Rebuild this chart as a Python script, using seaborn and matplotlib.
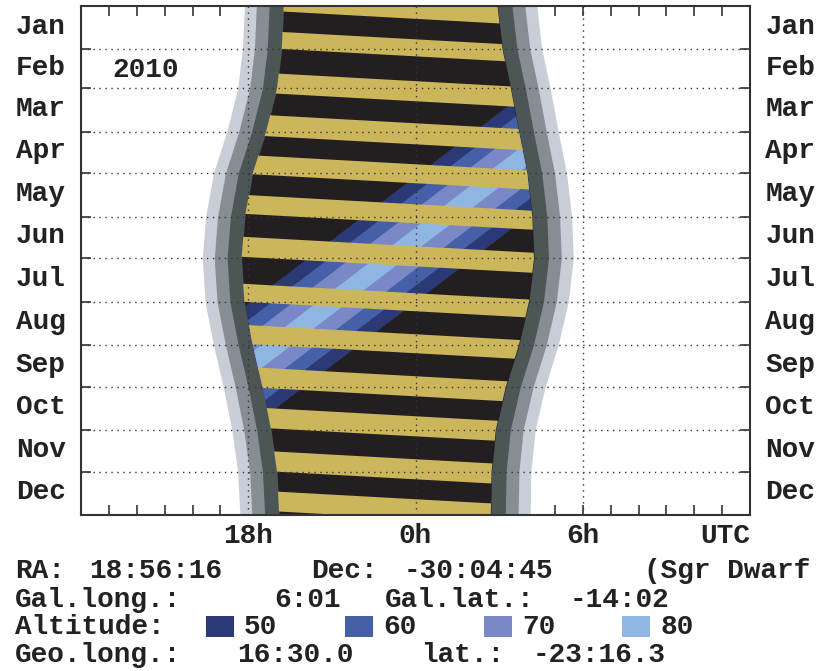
import numpy as np
import matplotlib
matplotlib.use("Agg")
import matplotlib.pyplot as plt
import matplotlib.transforms as mtransforms
import seaborn as sns
from matplotlib.patches import Polygon, Rectangle

# ---------------- data ----------------
MONTHS = ["Jan", "Feb", "Mar", "Apr", "May", "Jun",
          "Jul", "Aug", "Sep", "Oct", "Nov", "Dec"]
MONTH_START_DAY = [0, 31, 59, 90, 120, 151, 181, 212, 243, 273, 304, 334, 365]

# twilight outer edges (UTC hours, relative to 0h) at the month boundaries
EDGE_DAYS = [0, 31, 59, 90, 120, 151, 181, 212, 243, 273, 304, 334, 365]
SUNSET_UTC = [-6.14, -6.21, -6.38, -6.77, -7.25, -7.53, -7.65,
              -7.55, -7.25, -6.90, -6.59, -6.38, -6.30]
SUNRISE_UTC = [4.35, 4.53, 4.83, 5.12, 5.42, 5.60, 5.66,
               5.48, 5.12, 4.65, 4.29, 4.14, 4.11]
TWILIGHT_STEP_H = [0.43, 0.46, 0.52]          # civil, nautical, astronomical

# moon above horizon: band limits (day of year, measured at 0h UTC)
MOON_UP_START = [-5.6, 23.9, 53.9, 84.1, 113.5, 142.2, 172.3,
                 206.0, 235.4, 265.5, 294.2, 325.0, 353.7]
MOON_UP_END = [9.2, 36.1, 68.3, 99.2, 127.1, 155.8, 186.7,
               218.9, 249.0, 279.9, 308.6, 339.4, 367.9]
MOON_DRIFT_DAYS_PER_H = 1.1

# object transit (UTC hour) at start / end of the year
TRANSIT_DAY = [0, 365]
TRANSIT_UTC = [11.0, -13.0]
ALT_LEVELS = [50, 60, 70, 80]
ALT_HALFWIDTH_H = [2.96, 2.19, 1.41, 0.55]

X_TICK_HOURS = [-6, 0, 6, 12]
X_TICK_LABELS = ["18h", "0h", "6h", "UTC"]
YEAR_LABEL = "2010"
INFO_TOKENS = [
    ["RA:", "18:56:16", "Dec:", "-30:04:45", "(Sgr Dwarf"],
    ["Gal.long.:", "6:01", "Gal.lat.:", "-14:02"],
    ["Altitude:"],
    ["Geo.long.:", "16:30.0", "lat.:", "-23:16.3"],
]

# ---------------- layout / styles ----------------
INFO_COLS = [[0, 4, 16, 21, 34], [0, 14, 20, 30], [0], [0, 12, 22, 28]]
ROWS_Y = [571, 600, 627, 655]
PITCH = 18.5
TWILIGHT_COLORS = ["#c9cdd6", "#868d93", "#4c5657"]
NIGHT_COLOR = "#231f20"
MOON_COLOR = "#ccb65c"
ALT_COLORS = sns.color_palette(["#2b3a76", "#4660a7", "#7b88c7", "#8fb6e2"])
GRID_COLOR = "#333333"
TXT = "#222222"

sns.set_theme(style="ticks")
plt.rcParams["font.family"] = ["Liberation Mono", "DejaVu Sans Mono"]
plt.rcParams["font.weight"] = "bold"
FS = 20

W, H = 832, 671
fig = plt.figure(figsize=(W / 100, H / 100), dpi=100)
ax = fig.add_axes([81 / W, 1 - 515 / H, (750 - 81) / W, (515 - 6) / H])
ax.set_facecolor("white")

days = np.array(EDGE_DAYS, dtype=float)
sunset = np.array(SUNSET_UTC)
sunrise = np.array(SUNRISE_UTC)

# twilight layers + night
offs = np.concatenate([[0.0], np.cumsum(TWILIGHT_STEP_H)])
layer_cols = TWILIGHT_COLORS + [NIGHT_COLOR]
for off, col in zip(offs, layer_cols):
    ax.fill_betweenx(days, sunset + off, sunrise - off, color=col, lw=0, zorder=1)

night_off = offs[-1]
night_xy = np.concatenate([
    np.column_stack([sunset + night_off, days]),
    np.column_stack([(sunrise - night_off)[::-1], days[::-1]]),
])
clip = Polygon(night_xy, closed=True, transform=ax.transData, facecolor="none",
               edgecolor="none")
ax.add_patch(clip)

# altitude bands (diagonal, following the transit)
t0, t1 = TRANSIT_UTC
d0, d1 = TRANSIT_DAY
for hw, col in zip(ALT_HALFWIDTH_H, ALT_COLORS):
    polys = ax.fill([t0 - hw, t0 + hw, t1 + hw, t1 - hw],
                    [d0, d0, d1, d1], color=col, lw=0, zorder=2)
    for p in polys:
        p.set_clip_path(clip)

# moon-up stripes (drawn over the altitude bands)
k = MOON_DRIFT_DAYS_PER_H
for s, e in zip(MOON_UP_START, MOON_UP_END):
    polys = ax.fill([-12, 12, 12, -12],
                    [s - 12 * k, s + 12 * k, e + 12 * k, e - 12 * k],
                    color=MOON_COLOR, lw=0, zorder=3)
    for p in polys:
        p.set_clip_path(clip)

# dotted grid
for m in MONTH_START_DAY[1:-1]:
    ax.axhline(m, color=GRID_COLOR, lw=1.0, ls=(0, (1, 3.3)), zorder=5)
for hx in X_TICK_HOURS[:-1]:
    ax.axvline(hx, color=GRID_COLOR, lw=1.0, ls=(0, (1, 3.3)), zorder=5)

ax.set_xlim(-12, 12)
ax.set_ylim(365, 0)

ax.set_xticks(X_TICK_HOURS)
ax.set_xticklabels(X_TICK_LABELS, fontsize=FS, fontweight="bold")
ax.set_xticks(np.arange(-11, 12), minor=True)
ax.xaxis.get_ticklabels()[-1].set_horizontalalignment("right")

mid = [(a + b) / 2 for a, b in zip(MONTH_START_DAY[:-1], MONTH_START_DAY[1:])]
ax.set_yticks(mid)
ax.set_yticklabels(MONTHS, fontsize=FS, fontweight="bold")
ax.set_yticks(MONTH_START_DAY[1:-1], minor=True)

ax.tick_params(axis="x", which="both", direction="in", length=7.5, width=1.2,
               color="#333333", top=True, bottom=True, pad=6, labelcolor=TXT)
ax.tick_params(axis="y", which="major", length=0, left=True, right=True,
               labelleft=True, labelright=True, pad=11, labelcolor=TXT)
ax.tick_params(axis="y", which="minor", direction="in", length=7.5, width=1.2,
               color="#333333", left=True, right=True)
up = mtransforms.ScaledTranslation(0, 4 / 100, fig.dpi_scale_trans)
for t in ax.yaxis.get_major_ticks():
    t.label1.set_transform(t.label1.get_transform() + up)
    t.label2.set_transform(t.label2.get_transform() + up)
for sp in ax.spines.values():
    sp.set_color("#333333")
    sp.set_linewidth(1.5)
    sp.set_zorder(6)

# year label
fig.text(112 / W, 1 - 70 / H, YEAR_LABEL, fontsize=FS,
         fontweight="bold", color=TXT, va="center", ha="left")

# info lines under the chart (fields placed on the reference's character grid)
for toks, cols, yy in zip(INFO_TOKENS, INFO_COLS, ROWS_Y):
    for tok, c in zip(toks, cols):
        xl = 15 + c * PITCH
        fig.text(xl / W, 1 - yy / H, tok, fontsize=FS, fontweight="bold",
                 color=TXT, va="center", ha="left")

# altitude legend
box_x = [206, 345, 484, 622]
for bx, lev, col in zip(box_x, ALT_LEVELS, ALT_COLORS):
    fig.patches.append(Rectangle((bx / W, 1 - 637 / H), 28 / W, 21 / H,
                                 transform=fig.transFigure, facecolor=col,
                                 edgecolor="none", figure=fig))
    fig.text((bx + 38) / W, 1 - 627 / H, str(lev), fontsize=FS,
             fontweight="bold", color=TXT, va="center", ha="left")

fig.savefig("out.png", dpi=100)
